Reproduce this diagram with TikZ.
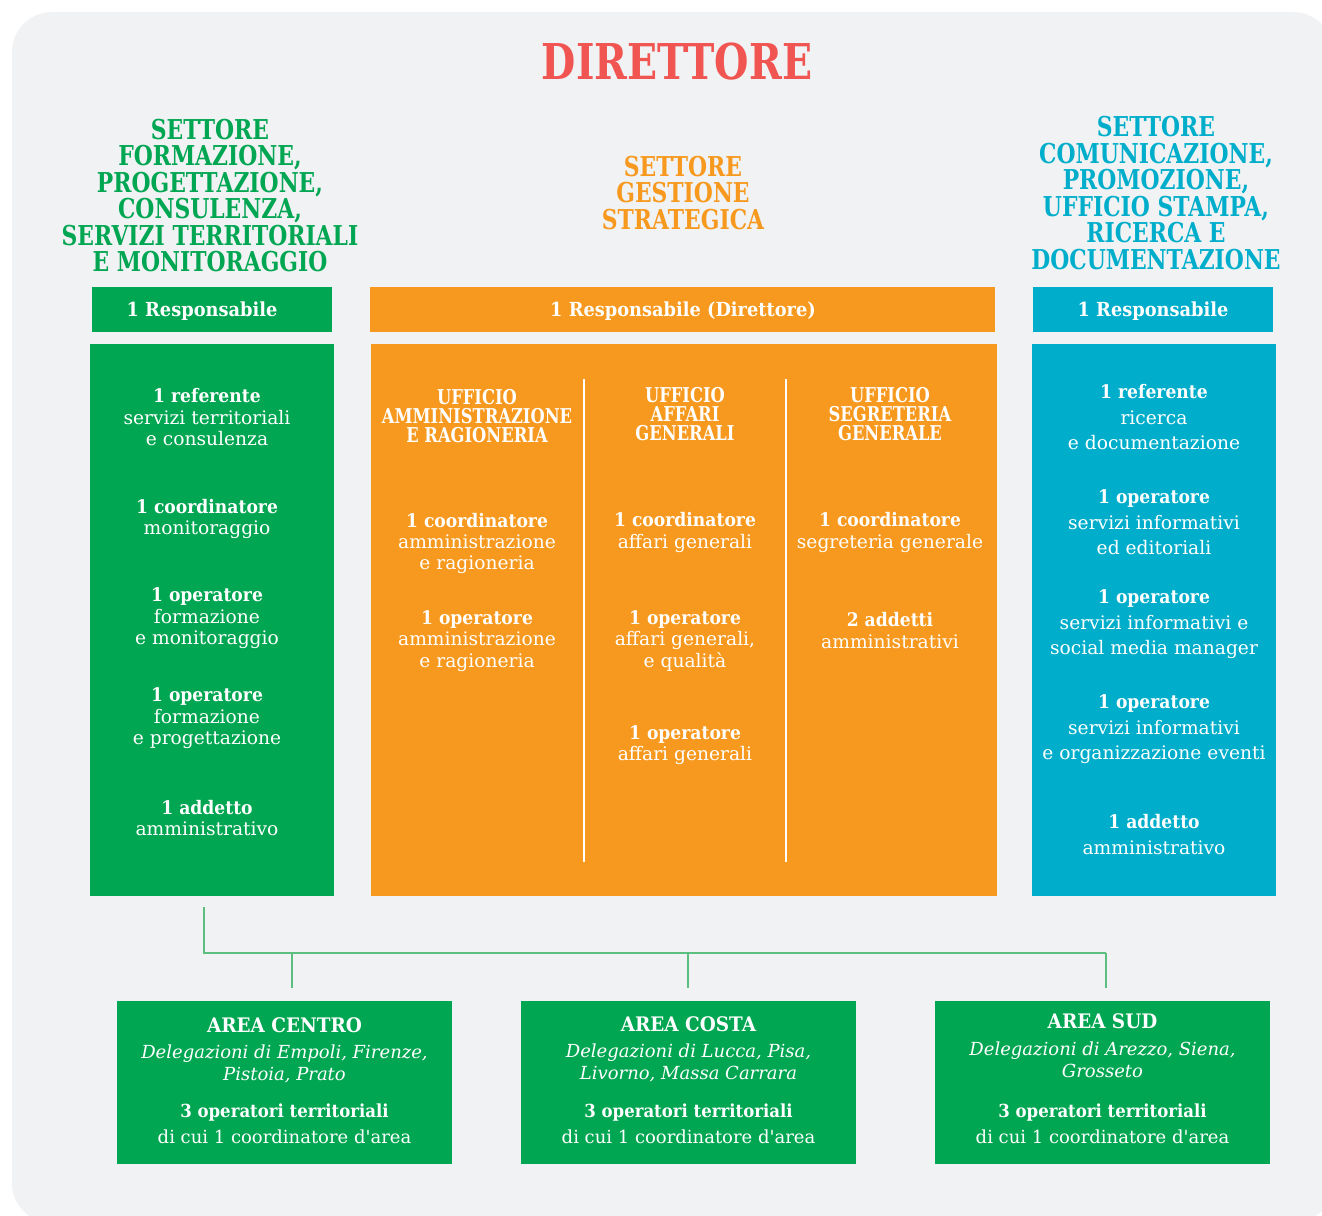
\documentclass[tikz,border=0pt]{standalone}
\usepackage{fontspec}
\setmainfont{DejaVu Serif}
\newfontfamily\condfont{DejaVu Serif}[FakeStretch=0.8]
\newfontfamily\boldfont{DejaVu Serif}[FakeStretch=0.92]

\definecolor{verde}{HTML}{00A651}
\definecolor{arancio}{HTML}{F7991E}
\definecolor{azzurro}{HTML}{00AECB}
\definecolor{rosso}{HTML}{F05552}
\definecolor{sfondo}{HTML}{F1F2F4}
\definecolor{linea}{HTML}{5CBF7F}

% Bold first line of every entry
\newcommand{\ruolo}[1]{{\boldfont\bfseries #1}}

\tikzset{
  head/.style={align=center, inner sep=0pt, font=\condfont\bfseries\fontsize{20.5}{19.9}\selectfont},
  box/.style={fill=#1, inner sep=0pt},
  resp/.style={text=white, font=\boldfont\bfseries\fontsize{14.5}{16}\selectfont},
  voce/.style={align=center, inner sep=0pt, text=white, font=\fontsize{14}{16.1}\selectfont},
  ufficio/.style={align=center, inner sep=0pt, text=white, font=\condfont\bfseries\fontsize{15.3}{14.25}\selectfont},
  area/.style={align=center, inner sep=0pt, text=white, font=\boldfont\bfseries\fontsize{15}{16}\selectfont},
  conn/.style={draw=linea, line width=1.5pt}
}

\begin{document}
\begin{tikzpicture}[x=0.75pt,y=-0.75pt]

% One unit of the reference (a pixel)
\def\u{0.75pt}

% Page of the same size as the reference
\useasboundingbox (0,0) rectangle (1322,1216);

% Grey rounded background
\fill[sfondo, rounded corners=30pt] (12,12) rectangle (1333,1223);

% Title
\node[inner sep=0pt, text=rosso, font=\condfont\bfseries\fontsize{37}{40}\selectfont] (dir) at (677,62) {DIRETTORE};

% Sector headings
\node[head, text=verde] (hG) at (210,195.5) {SETTORE\\FORMAZIONE,\\PROGETTAZIONE,\\CONSULENZA,\\SERVIZI TERRITORIALI\\E MONITORAGGIO};
\node[head, text=arancio] (hO) at (683,193) {SETTORE\\GESTIONE\\STRATEGICA};
\node[head, text=azzurro] (hC) at (1156,193) {SETTORE\\COMUNICAZIONE,\\PROMOZIONE,\\UFFICIO STAMPA,\\RICERCA E\\DOCUMENTAZIONE};

% Responsabile bars
\node[box=verde, minimum width=240*\u, minimum height=45*\u] (respG) at (212,309.5) {};
\node[box=arancio, minimum width=625*\u, minimum height=45*\u] (respO) at (682.5,309.5) {};
\node[box=azzurro, minimum width=240*\u, minimum height=45*\u] (respC) at (1153,309.5) {};
\node[resp] (tG) at (202,311) {1 Responsabile};
\node[resp] (tO) at (683,311) {1 Responsabile (Direttore)};
\node[resp] (tC) at (1153,311) {1 Responsabile};

% Main boxes
\node[box=verde, minimum width=244*\u, minimum height=552*\u] (boxG) at (212,620) {};
\node[box=arancio, minimum width=626*\u, minimum height=552*\u] (boxO) at (684,620) {};
\node[box=azzurro, minimum width=244*\u, minimum height=552*\u] (boxC) at (1154,620) {};

% White dividers in the orange box
\draw[white, line width=1.2pt] (584,379) -- (584,862);
\draw[white, line width=1.2pt] (786,379) -- (786,862);

% Green sector staff
\node[voce] (g1) at (207,417.5) {\ruolo{1 referente}\\servizi territoriali\\e consulenza};
\node[voce] (g2) at (207,519) {\ruolo{1 coordinatore}\\monitoraggio};
\node[voce] (g3) at (207,618.5) {\ruolo{1 operatore}\\formazione\\e monitoraggio};
\node[voce] (g4) at (207,718.5) {\ruolo{1 operatore}\\formazione\\e progettazione};
\node[voce] (g5) at (207,818) {\ruolo{1 addetto}\\amministrativo};

% Orange offices
\node[ufficio] (u1) at (477,416) {UFFICIO\\AMMINISTRAZIONE\\E RAGIONERIA};
\node[ufficio] (u2) at (685,414) {UFFICIO\\AFFARI\\GENERALI};
\node[ufficio] (u3) at (890,414) {UFFICIO\\SEGRETERIA\\GENERALE};

\node[voce] (o11) at (477,543.5) {\ruolo{1 coordinatore}\\amministrazione\\e ragioneria};
\node[voce] (o12) at (477,641) {\ruolo{1 operatore}\\amministrazione\\e ragioneria};
\node[voce] (o21) at (685,532.5) {\ruolo{1 coordinatore}\\affari generali};
\node[voce] (o22) at (685,641) {\ruolo{1 operatore}\\affari generali,\\e qualità};
\node[voce] (o23) at (685,745) {\ruolo{1 operatore}\\affari generali};
\node[voce] (o31) at (890,532.5) {\ruolo{1 coordinatore}\\segreteria generale};
\node[voce] (o32) at (890,630.5) {\ruolo{2 addetti}\\amministrativi};

% Blue sector staff
\node[voce, font=\fontsize{14}{19.1}\selectfont] (c1) at (1154,417.5) {\ruolo{1 referente}\\ricerca\\e documentazione};
\node[voce, font=\fontsize{14}{19.1}\selectfont] (c2) at (1154,522.5) {\ruolo{1 operatore}\\servizi informativi\\ed editoriali};
\node[voce, font=\fontsize{14}{19.1}\selectfont] (c3) at (1154,624.5) {\ruolo{1 operatore}\\servizi informativi e\\social media manager};
\node[voce, font=\fontsize{14}{19.1}\selectfont] (c4) at (1154,729.5) {\ruolo{1 operatore}\\servizi informativi\\e organizzazione eventi};
\node[voce, font=\fontsize{14}{19.1}\selectfont] (c5) at (1154,834.5) {\ruolo{1 addetto}\\amministrativo};

% Territorial areas
\node[box=verde, minimum width=335*\u, minimum height=163*\u] (areaC) at (284.5,1082.5) {};
\node[box=verde, minimum width=335*\u, minimum height=163*\u] (areaK) at (688.5,1082.5) {};
\node[box=verde, minimum width=335*\u, minimum height=163*\u] (areaS) at (1102.5,1082.5) {};

\node[area] (nC) at (284.5,1025) {AREA CENTRO};
\node[voce, font=\itshape\fontsize{13.5}{16.5}\selectfont] (dC) at (284.5,1064) {Delegazioni di Empoli, Firenze,\\Pistoia, Prato};
\node[voce, font=\fontsize{13.5}{19.5}\selectfont] (pC) at (284.5,1124) {\ruolo{3 operatori territoriali}\\di cui 1 coordinatore d\textquotesingle area};

\node[area] (nK) at (688.5,1024) {AREA COSTA};
\node[voce, font=\itshape\fontsize{13.5}{16.5}\selectfont] (dK) at (688.5,1063) {Delegazioni di Lucca, Pisa,\\Livorno, Massa Carrara};
\node[voce, font=\fontsize{13.5}{19.5}\selectfont] (pK) at (688.5,1124) {\ruolo{3 operatori territoriali}\\di cui 1 coordinatore d\textquotesingle area};

\node[area] (nS) at (1102.5,1021) {AREA SUD};
\node[voce, font=\itshape\fontsize{13.5}{16.5}\selectfont] (dS) at (1102.5,1060) {Delegazioni di Arezzo, Siena,\\Grosseto};
\node[voce, font=\fontsize{13.5}{19.5}\selectfont] (pS) at (1102.5,1123.5) {\ruolo{3 operatori territoriali}\\di cui 1 coordinatore d\textquotesingle area};

% Connector from the green sector to the areas
\coordinate (start) at (204,907);
\coordinate (busL) at (204,953);
\coordinate (busR) at (1106,953);
\coordinate (dropC) at (292,988);
\coordinate (dropK) at (688,988);
\coordinate (dropS) at (1106,988);
\draw[conn] (start) -- (busL) -- (busR);
\draw[conn] (dropC |- busL) -- (dropC);
\draw[conn] (dropK |- busL) -- (dropK);
\draw[conn] (busR) -- (dropS);

\end{tikzpicture}
\end{document}
